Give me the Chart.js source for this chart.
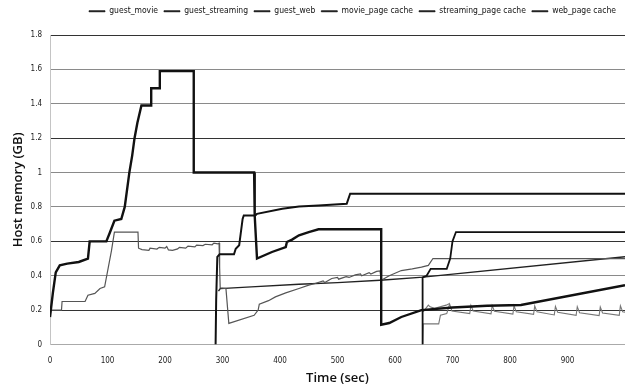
<!DOCTYPE html>
<html>
<head>
<meta charset="utf-8">
<script src="https://cdn.jsdelivr.net/npm/chart.js@4"></script>
<style>
html,body{margin:0;padding:0;background:#fff;}
canvas{display:block;}
</style>
</head>
<body>
<canvas id="c" width="629" height="390"></canvas>
<script>
// ---- data (time in sec, memory in GB) ----
const seriesNames = ["guest_movie","guest_streaming","guest_web","movie_page cache","streaming_page cache","web_page cache"];
const xTicks = [0,100,200,300,400,500,600,700,800,900,1000];
const yTicks = [0,0.2,0.4,0.6,0.8,1,1.2,1.4,1.6,1.8];

const guestMovieT  = [0,5,10,17,30,50,66,69,98,104,112,124,130,138,143,147,152,159,176,176,190,191,250,250,355,356,360,386,410,412,421,433,450,467,576,576,590,611,646,700,760,819,1000];
const guestMovieGB = [0.16,0.3,0.42,0.46,0.47,0.48,0.5,0.6,0.6,0.65,0.72,0.73,0.8,1.0,1.1,1.2,1.29,1.39,1.39,1.49,1.49,1.59,1.59,1.0,1.0,0.75,0.5,0.538,0.567,0.596,0.61,0.635,0.654,0.67,0.67,0.115,0.125,0.16,0.2,0.215,0.225,0.23,0.345];

const guestStreamT  = [288,289,291,295,320,323,329,335,337,357,360,404,433,467,516,522,1000];
const guestStreamGB = [0,0.26,0.51,0.525,0.525,0.557,0.577,0.73,0.75,0.75,0.76,0.79,0.803,0.809,0.818,0.877,0.877];

const guestWebT  = [648,648,655,662,690,696,700,706,1000];
const guestWebGB = [0,0.39,0.4,0.44,0.44,0.5,0.6,0.654,0.654];

const moviePcT  = [0,20,21,61,66,78,87,95,107,112,153,154,160,172,174,186,190,200,203,206,213,222,225,236,240,252,255,266,270,282,285,292,294,295,296,306,311,355,362,364,380,392,410,433,450,461,475,478,490,500,502,515,520,531,540,542,555,558,568,574,576,590,611,630,646,658,666,1000];
const moviePcGB = [0.2,0.2,0.25,0.25,0.287,0.297,0.326,0.335,0.548,0.654,0.654,0.56,0.552,0.548,0.56,0.555,0.565,0.56,0.57,0.55,0.548,0.556,0.565,0.56,0.572,0.568,0.578,0.575,0.583,0.58,0.59,0.585,0.59,0.45,0.33,0.325,0.123,0.17,0.2,0.235,0.255,0.277,0.3,0.326,0.345,0.355,0.37,0.36,0.384,0.39,0.38,0.395,0.39,0.405,0.41,0.4,0.418,0.41,0.425,0.428,0.374,0.4,0.43,0.44,0.45,0.46,0.5,0.5];

const streamPcT  = [293,296,350,433,500,574,649,1000];
const streamPcGB = [0.31,0.325,0.335,0.35,0.36,0.374,0.392,0.51];

const webPcT  = [649,658,661,669,689,695,695,648,649,676,679,690,695,699,730,732,736,767,769,773,805,807,811,841,843,847,877,879,883,915,917,921,955,957,961,990,992,996,1000];
const webPcGB = [0.19,0.229,0.219,0.21,0.229,0.239,null,0,0.12,0.12,0.17,0.18,0.235,0.195,0.18,0.228,0.195,0.178,0.226,0.193,0.177,0.225,0.19,0.175,0.224,0.19,0.172,0.222,0.188,0.17,0.22,0.185,0.168,0.218,0.183,0.17,0.225,0.19,0.188];

function pts(t, v){ return t.map((x,i)=>({x:x, y:v[i]})); }

const styles = [
  {c:'#111', w:2.4},
  {c:'#111', w:2.0},
  {c:'#111', w:1.8},
  {c:'#555', w:1.2},
  {c:'#222', w:1.4},
  {c:'#777', w:1.1}
];
const allData = [
  pts(guestMovieT, guestMovieGB),
  pts(guestStreamT, guestStreamGB),
  pts(guestWebT, guestWebGB),
  pts(moviePcT, moviePcGB),
  pts(streamPcT, streamPcGB),
  pts(webPcT, webPcGB)
];

const datasets = seriesNames.map((n,i)=>({
  label: n,
  data: allData[i],
  borderColor: styles[i].c,
  backgroundColor: styles[i].c,
  borderWidth: styles[i].w,
  pointRadius: 0,
  tension: 0,
  spanGaps: false,
  fill: false
}));

const darkGrid = [0.2,0.6,1.2,1.8];

const legendFix = {
  id: 'legendFix',
  beforeInit(chart){
    const lg = chart.legend;
    const fit = lg.fit;
    lg.fit = function(){
      fit.bind(lg)();
      this.height = 35;
    };
    const draw = lg.draw;
    lg.draw = function(){
      const ctx = chart.ctx;
      ctx.save();
      ctx.translate(38, 1);
      draw.bind(lg)();
      ctx.restore();
    };
  }
};

new Chart(document.getElementById('c'), {
  type: 'line',
  data: { datasets },
  options: {
    responsive: false,
    devicePixelRatio: 1,
    animation: false,
    layout: { padding: { left: 0, right: 0, top: 0, bottom: 0 } },
    plugins: {
      legend: {
        position: 'top',
        align: 'center',
        labels: {
          font: { family: "'DejaVu Sans Condensed','DejaVu Sans', sans-serif", size: 8.5 },
          color: '#111',
          boxWidth: 16,
          boxHeight: 1,
          padding: 6,
          generateLabels(chart){
            return chart.data.datasets.map((d,i)=>({
              text: d.label, fillStyle: '#111', strokeStyle: '#111', lineWidth: 0.8,
              hidden: false, datasetIndex: i, fontColor: '#111'
            }));
          }
        }
      },
      tooltip: { enabled: false }
    },
    scales: {
      x: {
        type: 'linear',
        min: 0, max: 1000,
        afterBuildTicks(s){ s.ticks = xTicks.map(v=>({value:v})); },
        ticks: {
          autoSkip: false,
          maxRotation: 0,
          padding: 4,
          font: { family: "'DejaVu Sans Condensed','DejaVu Sans', sans-serif", size: 8 },
          color: '#222',
          callback: (v)=> v === 1000 ? '' : String(v)
        },
        grid: { display: false },
        border: { display: false },
        title: {
          display: true, text: 'Time (sec)',
          font: { family: "'Open Sans', sans-serif", size: 13, weight: '600' },
          color: '#111', padding: { top: 0, bottom: 4 }
        },
        afterFit(s){ s.height = 45.5; }
      },
      y: {
        min: 0, max: 1.8,
        afterBuildTicks(s){ s.ticks = yTicks.map(v=>({value:v})); },
        ticks: {
          autoSkip: false,
          padding: 8,
          font: { family: "'DejaVu Sans Condensed','DejaVu Sans', sans-serif", size: 8 },
          color: '#222',
          callback: (v)=> String(Math.round(v*10)/10)
        },
        grid: {
          drawTicks: false,
          lineWidth: 1,
          color: (ctx)=>{
            const v = ctx.tick ? Math.round(ctx.tick.value*10)/10 : 0;
            if (v === 0) return '#aaa';
            return darkGrid.includes(v) ? '#333' : '#8a8a8a';
          }
        },
        border: { display: true, color: '#c4c4c4' },
        title: {
          display: true, text: 'Host memory (GB)',
          font: { family: "'Open Sans', sans-serif", size: 13, weight: '600' },
          color: '#111', padding: { top: 10, bottom: 0 }
        },
        afterFit(s){ s.width = 50; }
      }
    }
  },
  plugins: [legendFix]
});
</script>
</body>
</html>
